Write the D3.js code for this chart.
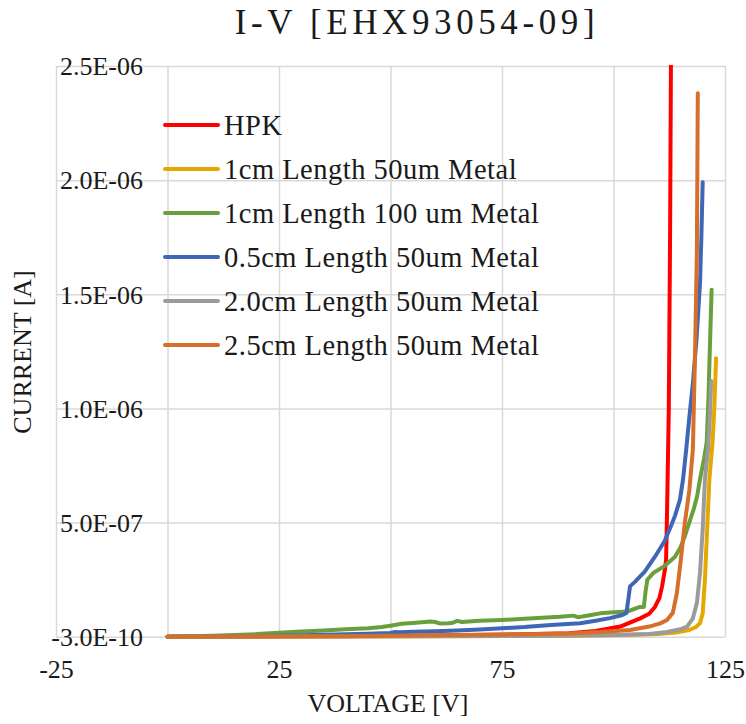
<!DOCTYPE html>
<html>
<head>
<meta charset="utf-8">
<script src="https://cdn.jsdelivr.net/npm/d3@7"></script>
<style>
  html, body { margin: 0; padding: 0; background: #fff; }
  svg text { font-family: "Liberation Serif", "Times New Roman", Times, serif; fill: #1a1a1a; }
</style>
</head>
<body>
<svg id="chart" width="746" height="724"></svg>
<script>
// Axis ticks and labels
const xTicks = [-25, 0, 25, 50, 75, 100, 125];
const xTickLabels = ["-25", "", "25", "", "75", "", "125"];
const yTicks = [-3e-10, 4.997e-7, 9.997e-7, 1.4997e-6, 1.9997e-6, 2.4997e-6];
const yTickLabels = ["-3.0E-10", "5.0E-07", "1.0E-06", "1.5E-06", "2.0E-06", "2.5E-06"];

// Series names and colours (legend order)
const seriesNames = ["HPK", "1cm Length 50um Metal", "1cm Length 100 um Metal",
  "0.5cm Length 50um Metal", "2.0cm Length 50um Metal", "2.5cm Length 50um Metal"];
const seriesColors = ["#ff0000", "#e5a800", "#6a9f3e", "#3f67b6", "#9b9b9b", "#d66f2a"];

// Measured I-V curves: [voltage V, current A]
const hpk = [[0,0],[20,1e-9],[40,3e-9],[60,5e-9],[80,1e-8],[90,1.5e-8],[96,2.5e-8],[101.5,4.4e-8],
  [106,8e-8],[108,1.0e-7],[109.3,1.3e-7],[110.3,1.7e-7],[110.9,2.2e-7],[111.5,2.9e-7],[111.8,3.4e-7],
  [112,5.4e-7],[112.4,1.0e-6],[112.7,1.8e-6],[113,3.0e-6]];
const cm1um50 = [[0,0],[30,1e-9],[60,2e-9],[90,4e-9],[100,6e-9],[110,1.2e-8],[114,1.8e-8],[117,2.9e-8],
  [118.5,4.2e-8],[119.4,5.9e-8],[120,1.02e-7],[120.5,2.5e-7],[121,4.7e-7],[121.5,6.9e-7],[122.2,8.5e-7],
  [122.6,1.0e-6],[123,1.22e-6]];
const cm1um100 = [[0,0],[5,1.5e-9],[10,4e-9],[15,7e-9],[20,1.1e-8],[25,1.75e-8],[30,2.2e-8],[35,2.7e-8],
  [40,3.2e-8],[45,3.7e-8],[48,4.2e-8],[50,4.8e-8],[52.5,5.6e-8],[55,6.0e-8],[59,6.6e-8],[60,6.4e-8],
  [61,5.8e-8],[63,5.9e-8],[64,6.1e-8],[65,6.9e-8],[66,6.4e-8],[70,7.0e-8],[75,7.3e-8],[80,7.8e-8],
  [84,8.3e-8],[88,8.7e-8],[91,9.2e-8],[92,8.5e-8],[93,8.8e-8],[95,9.5e-8],[97,1.02e-7],[100,1.07e-7],
  [103,1.1e-7],[104.5,1.2e-7],[105.9,1.3e-7],[106.8,1.3e-7],[107.2,2.0e-7],[107.6,2.5e-7],[109,2.8e-7],
  [111.5,3.1e-7],[113.8,3.5e-7],[115,3.9e-7],[116,4.4e-7],[117,5.0e-7],[118,5.6e-7],[118.7,6.1e-7],
  [119.4,6.9e-7],[120.3,7.8e-7],[120.9,8.5e-7],[121.3,1.05e-6],[121.6,1.26e-6],[122,1.52e-6]];
const cm05um50 = [[0,0],[10,1e-9],[20,3e-9],[30,6e-9],[40,1e-8],[45,1.3e-8],[50,1.6e-8],[51,2.0e-8],
  [52,1.9e-8],[55,2.1e-8],[60,2.4e-8],[65,2.7e-8],[70,3.1e-8],[75,3.7e-8],[80,4.2e-8],[86,5.1e-8],
  [92.5,5.9e-8],[96,7.0e-8],[99.2,8.1e-8],[102,9.5e-8],[102.9,1.04e-7],[103.3,1.6e-7],[103.7,2.2e-7],
  [104.8,2.4e-7],[107,2.85e-7],[109.3,3.5e-7],[111.5,4.2e-7],[113,4.9e-7],[113.8,5.3e-7],[114.9,6.0e-7],
  [115.6,6.9e-7],[116.3,8.2e-7],[117,9.6e-7],[117.8,1.11e-6],[118.6,1.3e-6],[119.4,1.55e-6],
  [119.7,1.75e-6],[120,1.99e-6]];
const cm2um50 = [[0,0],[40,1e-9],[80,3e-9],[100,7e-9],[108,1.2e-8],[112,2e-8],[115,3.2e-8],[116.5,4.4e-8],
  [117.8,8e-8],[118.7,1.48e-7],[119.4,2.8e-7],[120,4.7e-7],[120.5,6.9e-7],[121.2,8.2e-7],[121.6,9.6e-7],
  [121.9,1.12e-6]];
const cm25um50 = [[0,0],[20,1e-9],[40,2e-9],[50,4e-9],[60,6e-9],[70,8e-9],[80,1.0e-8],[90,1.4e-8],
  [97,2.0e-8],[103.7,2.9e-8],[108,4.4e-8],[110.5,5.8e-8],[112,7.3e-8],[113.3,1.04e-7],[114.2,1.9e-7],
  [115,3.2e-7],[116,5.0e-7],[117,6.4e-7],[117.8,8.2e-7],[118.3,1.26e-6],[118.7,1.69e-6],[118.9,2.38e-6]];

const seriesData = [hpk, cm1um50, cm1um100, cm05um50, cm2um50, cm25um50];

const svg = d3.select("#chart");
const plot = { left: 56, right: 725, top: 66, bottom: 636.7 };

const x = d3.scaleLinear().domain([-25, 125]).range([plot.left, plot.right]);
const y = d3.scaleLinear().domain([-3e-10, 2.4997e-6]).range([plot.bottom, plot.top]);

// Gridlines
const gridColor = "#d9d9d9";
svg.append("g")
  .attr("transform", `translate(0,${plot.bottom})`)
  .call(d3.axisBottom(x).tickValues(xTicks).tickSize(-(plot.bottom - plot.top)).tickFormat(""))
  .call(g => g.select(".domain").remove())
  .call(g => g.selectAll("line").attr("stroke", gridColor).attr("stroke-width", 1.5));
svg.append("g")
  .attr("transform", `translate(${plot.left},0)`)
  .call(d3.axisLeft(y).tickValues(yTicks).tickSize(-(plot.right - plot.left)).tickFormat(""))
  .call(g => g.select(".domain").remove())
  .call(g => g.selectAll("line").attr("stroke", gridColor).attr("stroke-width", 1.5));

// Tick labels
svg.append("g")
  .attr("transform", `translate(0,${plot.bottom})`)
  .call(d3.axisBottom(x).tickValues(xTicks).tickSize(0).tickPadding(0)
    .tickFormat((d, i) => xTickLabels[i]))
  .call(g => g.select(".domain").remove())
  .call(g => g.selectAll("text")
    .attr("y", 41).attr("dy", 0)
    .style("font-size", "26px").attr("fill", "#1a1a1a"));
svg.append("g")
  .attr("transform", `translate(143,0)`)
  .call(d3.axisLeft(y).tickValues(yTicks).tickSize(0).tickPadding(0)
    .tickFormat((d, i) => yTickLabels[i]))
  .call(g => g.select(".domain").remove())
  .call(g => g.selectAll("text")
    .attr("x", 0).attr("dy", "0.34em")
    .style("font-size", "26px").attr("fill", "#1a1a1a"));

// Curves
svg.append("clipPath").attr("id", "plotClip")
  .append("rect")
  .attr("x", plot.left).attr("y", plot.top - 1)
  .attr("width", plot.right - plot.left).attr("height", plot.bottom - plot.top + 4);

const line = d3.line().x(d => x(d[0])).y(d => y(d[1]));
svg.append("g").attr("clip-path", "url(#plotClip)")
  .selectAll("path")
  .data(seriesData)
  .join("path")
  .attr("d", line)
  .attr("fill", "none")
  .attr("stroke", (d, i) => seriesColors[i])
  .attr("stroke-width", 4)
  .attr("stroke-linejoin", "round")
  .attr("stroke-linecap", "round");

// Legend
const legend = svg.append("g");
const rows = legend.selectAll("g")
  .data(seriesNames)
  .join("g")
  .attr("transform", (d, i) => `translate(165,${125 + i * 44})`);
rows.append("line")
  .attr("x1", 0).attr("x2", 53).attr("y1", 0).attr("y2", 0)
  .attr("stroke", (d, i) => seriesColors[i])
  .attr("stroke-width", 4)
  .attr("stroke-linecap", "round");
rows.append("text")
  .attr("x", 59).attr("y", 9.5)
  .style("font-size", "28.5px")
  .style("letter-spacing", "0.5px")
  .text(d => d);

// Title and axis titles
svg.append("text")
  .attr("x", 417).attr("y", 34)
  .attr("text-anchor", "middle")
  .style("font-size", "35px")
  .style("letter-spacing", "4.6px")
  .text("I-V [EHX93054-09]");
svg.append("text")
  .attr("x", 388).attr("y", 712)
  .attr("text-anchor", "middle")
  .style("font-size", "26px")
  .text("VOLTAGE [V]");
svg.append("text")
  .attr("transform", "translate(31,352) rotate(-90)")
  .attr("text-anchor", "middle")
  .style("font-size", "26px")
  .text("CURRENT [A]");
</script>
</body>
</html>
